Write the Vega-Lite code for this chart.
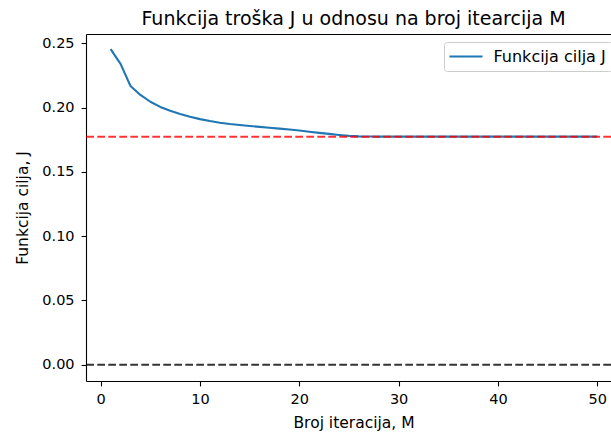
{
  "$schema": "https://vega.github.io/schema/vega-lite/v6.json",
  "autosize": {"type": "none"},
  "width": 525,
  "height": 347,
  "padding": {"left": 86, "top": 34, "right": 0, "bottom": 53},
  "background": "white",
  "view": {"stroke": null},
  "title": {
    "text": "Funkcija troška J u odnosu na broj itearcija M",
    "font": "DejaVu Sans",
    "fontSize": 19,
    "fontWeight": "normal",
    "color": "black",
    "anchor": "middle",
    "baseline": "bottom",
    "offset": -14,
    "dx": 5
  },
  "config": {
    "axis": {
      "labelFont": "DejaVu Sans",
      "labelFontSize": 14.5,
      "labelColor": "black",
      "titleFont": "DejaVu Sans",
      "titleFontSize": 15.5,
      "titleFontWeight": "normal",
      "titleColor": "black",
      "tickColor": "black",
      "tickSize": 4.9,
      "tickWidth": 1.1,
      "domainColor": "black",
      "domainWidth": 1.1,
      "labelPadding": 7,
      "grid": false
    },
    "legend": {
      "labelFont": "DejaVu Sans",
      "labelFontSize": 16,
      "labelColor": "black"
    }
  },
  "resolve": {"axis": {"x": "independent"}},
  "layer": [
    {
      "data": {"values": [
        {"M": 1, "J": 0.2455}, {"M": 2, "J": 0.2340}, {"M": 3, "J": 0.2168},
        {"M": 4, "J": 0.2098}, {"M": 5, "J": 0.2045}, {"M": 6, "J": 0.2005},
        {"M": 7, "J": 0.1975}, {"M": 8, "J": 0.1950}, {"M": 9, "J": 0.1928},
        {"M": 10, "J": 0.1910}, {"M": 11, "J": 0.1895}, {"M": 12, "J": 0.1882},
        {"M": 13, "J": 0.1872}, {"M": 14, "J": 0.1864}, {"M": 15, "J": 0.1857},
        {"M": 16, "J": 0.1850}, {"M": 17, "J": 0.1843}, {"M": 18, "J": 0.1836},
        {"M": 19, "J": 0.1829}, {"M": 20, "J": 0.1822}, {"M": 21, "J": 0.1812},
        {"M": 22, "J": 0.1803}, {"M": 23, "J": 0.1795}, {"M": 24, "J": 0.1787},
        {"M": 25, "J": 0.1780}, {"M": 26, "J": 0.1776}, {"M": 27, "J": 0.1775},
        {"M": 28, "J": 0.1774}, {"M": 29, "J": 0.1774}, {"M": 30, "J": 0.1774},
        {"M": 31, "J": 0.1774}, {"M": 32, "J": 0.1774}, {"M": 33, "J": 0.1774},
        {"M": 34, "J": 0.1774}, {"M": 35, "J": 0.1774}, {"M": 36, "J": 0.1774},
        {"M": 37, "J": 0.1774}, {"M": 38, "J": 0.1774}, {"M": 39, "J": 0.1774},
        {"M": 40, "J": 0.1774}, {"M": 41, "J": 0.1774}, {"M": 42, "J": 0.1774},
        {"M": 43, "J": 0.1774}, {"M": 44, "J": 0.1774}, {"M": 45, "J": 0.1774},
        {"M": 46, "J": 0.1774}, {"M": 47, "J": 0.1774}, {"M": 48, "J": 0.1774},
        {"M": 49, "J": 0.1774}, {"M": 50, "J": 0.1774}
      ]},
      "layer": [
        {
          "mark": {"type": "line", "strokeWidth": 2.1, "strokeJoin": "round", "strokeCap": "butt"},
          "encoding": {
            "x": {
              "field": "M", "type": "quantitative",
              "scale": {"domain": [-1.48, 51.39], "nice": false, "zero": false},
              "axis": {"values": [0, 10, 20, 30, 40, 50], "format": "d", "title": "Broj iteracija, M", "titleX": 267.5, "titleAlign": "center", "titlePadding": 9, "labelPadding": 7, "orient": "bottom"}
            },
            "y": {
              "field": "J", "type": "quantitative",
              "scale": {"domain": [-0.01268, 0.2572], "nice": false, "zero": false},
              "axis": {"values": [0, 0.05, 0.1, 0.15, 0.2, 0.25], "format": ".2f", "title": "Funkcija cilja, J", "titlePadding": 11, "labelPadding": 7}
            },
            "color": {
              "datum": "Funkcija cilja J",
              "type": "nominal",
              "scale": {"range": ["#1f77b4"]},
              "legend": {
                "title": null,
                "orient": "none",
                "legendX": 358,
                "legendY": 8,
                "fillColor": "white",
                "strokeColor": "#cccccc",
                "cornerRadius": 3,
                "padding": 6,
                "symbolType": "M-2.36,0L2.36,0",
                "symbolSize": 196,
                "symbolStrokeWidth": 2.1,
                "symbolOffset": 7.5,
                "labelOffset": 19,
                "labelExpr": "datum.label + '   '"
              }
            }
          }
        },
        {
          "mark": {"type": "line", "opacity": 0},
          "encoding": {
            "x": {
              "field": "M", "type": "quantitative",
              "scale": {"domain": [-1.48, 51.39], "nice": false, "zero": false},
              "axis": {"orient": "top", "labels": false, "ticks": false, "title": null, "domain": true, "minExtent": 0, "maxExtent": 0}
            },
            "y": {"field": "J", "type": "quantitative"}
          }
        }
      ]
    },
    {
      "data": {"values": [{"level": 0.1773}]},
      "mark": {"type": "rule", "color": "#ff0000", "opacity": 0.8, "strokeWidth": 2.1, "strokeDash": [7.7, 3.3]},
      "encoding": {"y": {"field": "level", "type": "quantitative"}}
    },
    {
      "data": {"values": [{"level": 0}]},
      "mark": {"type": "rule", "color": "#000000", "opacity": 0.8, "strokeWidth": 2.1, "strokeDash": [7.7, 3.3]},
      "encoding": {"y": {"field": "level", "type": "quantitative"}}
    }
  ]
}
